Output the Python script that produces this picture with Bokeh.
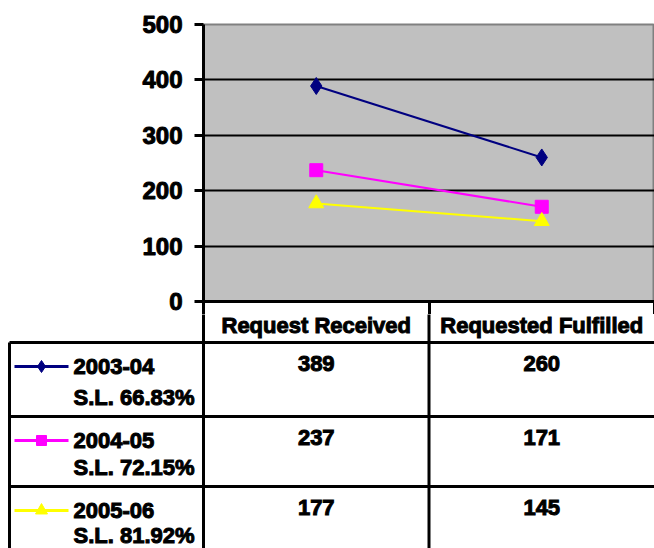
from bokeh.plotting import figure
from bokeh.models import Range1d, FixedTicker
from bokeh.embed import file_html
from bokeh.resources import INLINE
from bokeh.core.properties import value

# ---------------- data ----------------
categories = ["Request Received", "Requested Fulfilled"]
series_names = ["2003-04", "2004-05", "2005-06"]
service_levels = ["S.L. 66.83%", "S.L. 72.15%", "S.L. 81.92%"]
received = [389, 237, 177]
fulfilled = [260, 171, 145]
y_ticks = [0, 100, 200, 300, 400, 500]

colors = ["#000080", "#FF00FF", "#FFFF00"]
markers = ["diamond", "square", "triangle"]
chart_marker_sizes = [17, 13, 15]
legend_marker_sizes = [12, 10, 12]

FONT = "Liberation Sans"

# ---------------- layout constants (page pixels) ----------------
W = 654
LEFT = 203
TOP = 24
FRAME_H = 277
BOTTOM = 13
A_H = TOP + FRAME_H + BOTTOM
B_H = 548 - A_H

x_cat = [i + 0.5 for i in range(len(categories))]
n_cat = len(categories)

# ---------------- chart ----------------
pA = figure(width=W, height=A_H, x_range=Range1d(0, n_cat), y_range=Range1d(y_ticks[0], y_ticks[-1]),
            output_backend="svg", toolbar_location=None,
            min_border_left=LEFT, min_border_right=0, min_border_top=TOP, min_border_bottom=BOTTOM)
pA.background_fill_color = "#C0C0C0"
pA.border_fill_color = "white"
pA.outline_line_color = "#808080"
pA.outline_line_width = 2

pA.xgrid.visible = False
pA.ygrid.ticker = FixedTicker(ticks=y_ticks[1:-1])
pA.ygrid.grid_line_color = "black"
pA.ygrid.grid_line_width = 2

ya = pA.yaxis[0]
ya.ticker = FixedTicker(ticks=y_ticks)
ya.axis_line_color = "black"
ya.axis_line_width = 3
ya.major_tick_in = 0
ya.major_tick_out = 9
ya.major_tick_line_width = 3
ya.major_tick_line_color = "black"
ya.minor_tick_in = 0
ya.minor_tick_out = 0
ya.major_label_standoff = 12
ya.major_label_text_font = FONT
ya.major_label_text_font_style = "bold"
ya.major_label_text_font_size = "24px"
ya.major_label_text_color = "black"
ya.major_label_text_outline_color = "black"

xa = pA.xaxis[0]
xa.ticker = FixedTicker(ticks=[], minor_ticks=list(range(n_cat + 1)))
xa.axis_line_color = "black"
xa.axis_line_width = 3
xa.major_tick_in = 0
xa.major_tick_out = 0
xa.minor_tick_in = 0
xa.minor_tick_out = BOTTOM
xa.minor_tick_line_width = 3
xa.minor_tick_line_color = "black"
xa.major_label_standoff = 0

for i in range(len(series_names)):
    vals = [received[i], fulfilled[i]]
    pA.line(x_cat, vals, line_color=colors[i], line_width=2)
    pA.scatter(x_cat, vals, marker=markers[i], size=chart_marker_sizes[i],
               fill_color=colors[i], line_color=colors[i])

# ---------------- data table (y in page pixels) ----------------
unit = (W - LEFT) / n_cat
xr = Range1d(-LEFT / unit, n_cat)


def px(xp):
    return xr.start + xp / unit


pB = figure(width=W, height=B_H, x_range=xr, y_range=Range1d(A_H + B_H, A_H),
            output_backend="svg", toolbar_location=None, min_border=0)
pB.axis.visible = False
pB.grid.visible = False
pB.outline_line_color = None
pB.background_fill_color = "white"

header_y = 325
row_tops = [342, 416, 486]
sl_offsets = [55, 51, 49]
bottom_y = A_H + B_H + 2
line_kw = dict(line_color="black", line_width=3)
pB.segment(x0=[px(9)] * len(row_tops), y0=row_tops, x1=[n_cat] * len(row_tops), y1=row_tops, **line_kw)
pB.segment(x0=[px(9)], y0=[row_tops[0]], x1=[px(9)], y1=[bottom_y], **line_kw)
pB.segment(x0=list(range(n_cat)), y0=[A_H - 2] * n_cat, x1=list(range(n_cat)), y1=[bottom_y] * n_cat, **line_kw)

pB.text(x_cat, [header_y] * n_cat, text=categories, text_align="center", text_baseline="middle",
        text_font=value(FONT), text_font_style="bold", text_font_size="22px", text_color="black",
        text_outline_color="black")

txt_kw = dict(text_font=value(FONT), text_font_style="bold", text_font_size="22px", text_color="black",
              text_outline_color="black")
for i, rt in enumerate(row_tops):
    ly = rt + 24
    pB.line([px(14), px(68)], [ly, ly], line_color=colors[i], line_width=3)
    pB.scatter([px(41)], [ly], marker=markers[i], size=legend_marker_sizes[i],
               fill_color=colors[i], line_color=colors[i])
    pB.text([px(73)], [ly], text=[series_names[i]], text_align="left", text_baseline="middle", **txt_kw)
    pB.text([px(73)], [rt + sl_offsets[i]], text=[service_levels[i]], text_align="left",
            text_baseline="middle", **txt_kw)
    pB.text(x_cat, [rt + 21] * n_cat, text=[str(received[i]), str(fulfilled[i])],
            text_align="center", text_baseline="middle", **txt_kw)

open("out.html", "w").write(file_html([pA, pB], INLINE))
